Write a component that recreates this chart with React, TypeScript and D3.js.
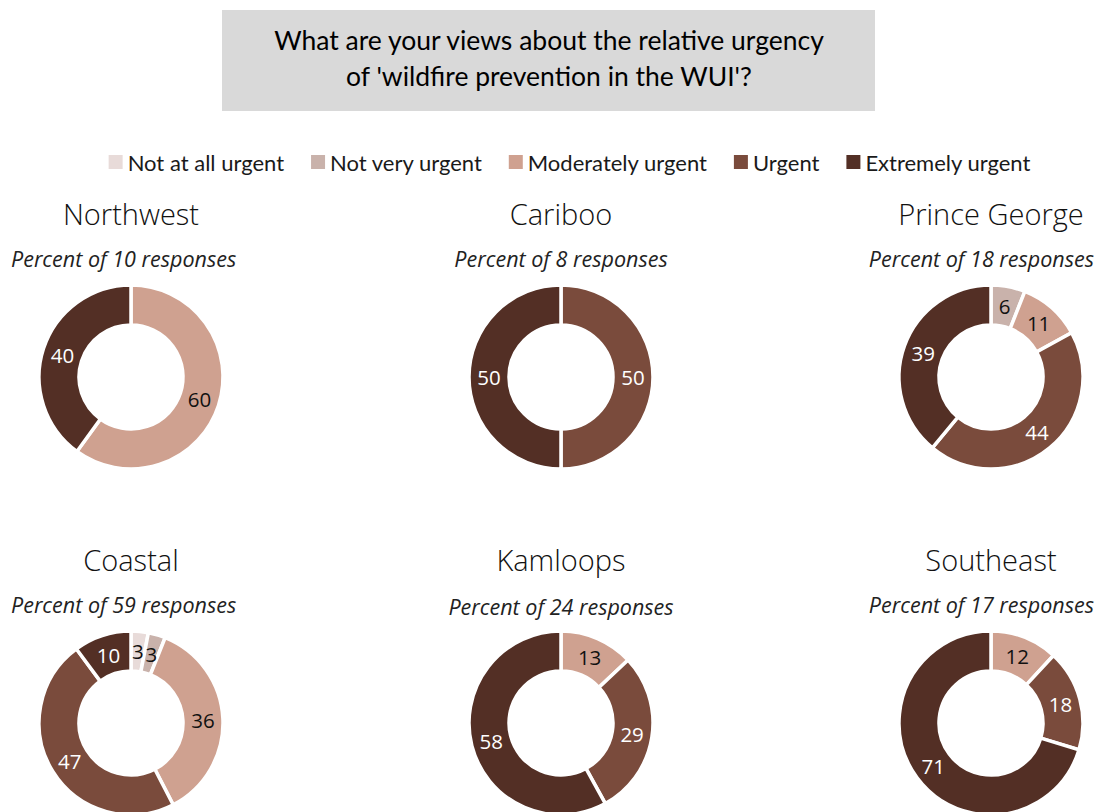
import React, { useEffect, useRef } from "react";
import * as d3 from "d3";

const categories = ["Not at all urgent", "Not very urgent", "Moderately urgent", "Urgent", "Extremely urgent"];
const colors = ["#e8dbd9", "#c9b2ab", "#cfa190", "#7a4b3c", "#532f25"];
const labelColors = ["#111", "#111", "#111", "#fff", "#fff"];

const regions = ["Northwest", "Cariboo", "Prince George", "Coastal", "Kamloops", "Southeast"];
const responses = [10, 8, 18, 59, 24, 17];
const northwest = [0, 0, 60, 0, 40];
const cariboo = [0, 0, 0, 50, 50];
const princeGeorge = [0, 6, 11, 44, 39];
const coastal = [3, 3, 36, 47, 10];
const kamloops = [0, 0, 13, 29, 58];
const southeast = [0, 0, 12, 18, 71];
const series = [northwest, cariboo, princeGeorge, coastal, kamloops, southeast];

const W = 1099;
const H = 812;

export default function App() {
  const ref = useRef<SVGSVGElement>(null);
  useEffect(() => {
    const svg = d3.select(ref.current);
    svg.selectAll("*").remove();
    const font = "'Open Sans', 'Noto Sans', sans-serif";

    // title box
    svg.append("rect").attr("x", 222).attr("y", 10).attr("width", 653).attr("height", 101).attr("fill", "#d9d9d9");
    const tl = ["What are your views about the relative urgency", "of 'wildfire prevention in the WUI'?"];
    tl.forEach((t, i) => {
      svg.append("text").attr("x", 549).attr("y", 40 + i * 36).attr("text-anchor", "middle")
        .attr("dominant-baseline", "central").attr("font-family", "Lato, sans-serif")
        .attr("font-size", 26.5).attr("fill", "#000").text(t);
    });

    // legend
    const lg = svg.append("g");
    let x = 0;
    categories.forEach((c, i) => {
      lg.append("rect").attr("x", x).attr("y", 155).attr("width", 14).attr("height", 14).attr("fill", colors[i]);
      const t = lg.append("text").attr("x", x + 19).attr("y", 162).attr("dominant-baseline", "central")
        .attr("font-family", "Lato, sans-serif").attr("font-size", 22).attr("fill", "#1a1a1a").text(c);
      const w = (t.node() as SVGTextElement).getComputedTextLength();
      x += 19 + w + 27;
    });
    const total = x - 27;
    lg.attr("transform", `translate(${569.5 - total / 2},0)`);

    const cols = d3.scalePoint<number>().domain([0, 1, 2]).range([131, 991]);
    const rows = d3.scalePoint<number>().domain([0, 1]).range([377, 723]);
    const outer = 92, inner = 52;
    const arc = d3.arc<d3.PieArcDatum<number>>().innerRadius(inner).outerRadius(outer);
    const pie = d3.pie<number>().sort(null).value((d) => d);

    regions.forEach((name, k) => {
      const cx = cols(k % 3)!;
      const cy = rows(Math.floor(k / 3))!;
      svg.append("text").attr("x", cx).attr("y", cy - 164).attr("text-anchor", "middle")
        .attr("dominant-baseline", "central").attr("font-family", font).attr("font-weight", 300)
        .attr("font-size", 29).attr("fill", "#111").text(name);
      const sub = svg.append("text").attr("x", cx).attr("y", cy - 119 + (name === "Kamloops" ? 2 : 0)).attr("text-anchor", "middle")
        .attr("dominant-baseline", "central").attr("font-family", font).attr("font-style", "italic")
        .attr("font-size", 21.5).attr("fill", "#222").text(`Percent of ${responses[k]} responses`);
      const sw = (sub.node() as SVGTextElement).getComputedTextLength();
      const sx = k % 3 === 0 ? 11 + sw / 2 : Math.min(1094 - sw / 2, cx);
      sub.attr("x", sx);
      const g = svg.append("g").attr("transform", `translate(${cx},${cy})`);
      const arcs = pie(series[k]).map((a, i) => ({ ...a, idx: i })).filter((a) => a.value > 0);
      g.selectAll("path").data(arcs).join("path")
        .attr("d", (d: any) => arc(d))
        .attr("fill", (d: any) => colors[d.idx])
        .attr("stroke", "#fff").attr("stroke-width", 3.5);
      g.selectAll("text").data(arcs).join("text")
        .attr("transform", (d: any) => `translate(${arc.centroid(d)})`)
        .attr("text-anchor", "middle").attr("dominant-baseline", "central")
        .attr("font-family", font).attr("font-size", 20.5)
        .attr("fill", (d: any) => labelColors[d.idx])
        .text((d: any) => d.value);
    });
  }, []);
  return (
    <div style={{ position: "absolute", left: 0, top: 0 }}>
      <svg ref={ref} width={W} height={H} style={{ display: "block", background: "#fff" }} />
    </div>
  );
}
